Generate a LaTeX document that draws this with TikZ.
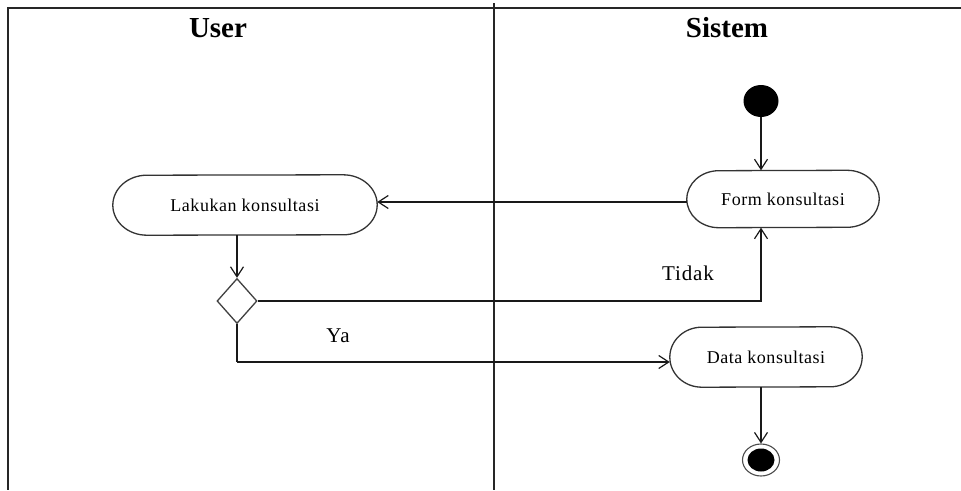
\documentclass[tikz,border=0pt]{standalone}
\usepackage{fontspec}
\setmainfont{Liberation Serif}
\usetikzlibrary{arrows.meta,shapes.geometric}
% outline of an action node with half-ellipse ends
\newcommand\pillshape[3]{%
  \draw[draw=black!80,line width=1.3pt]
    ([xshift=-#2]#1.north east) arc[start angle=90,end angle=-90,x radius=#2,y radius=#3]
    -- ([xshift=#2]#1.south west) arc[start angle=270,end angle=90,x radius=#2,y radius=#3]
    -- cycle;}
\begin{document}
\begin{tikzpicture}[x=1pt,y=-1pt,
  lane/.style={draw=black!85,line width=2pt},
  action/.style={rectangle,inner sep=0pt,
    font=\fontsize{18}{21}\selectfont\addfontfeatures{LetterSpace=3}},
  flow/.style={draw=black!90,line width=1.3pt,-{Straight Barb[length=10pt,width=13pt,line width=1.2pt]}},
  plain/.style={draw=black!90,line width=1.3pt},
  head/.style={font=\bfseries\fontsize{29}{32}\selectfont},
  guard/.style={font=\fontsize{21}{23}\selectfont\addfontfeatures{LetterSpace=4}},
  startnode/.style={ellipse,fill=black,minimum width=35pt,minimum height=32pt,inner sep=0pt},
  endnode/.style={ellipse,draw=black!70,line width=1.1pt,fill=white,minimum width=37pt,minimum height=32pt,inner sep=0pt},
  choice/.style={diamond,draw=black!75,line width=1.3pt,fill=white,minimum width=40pt,minimum height=45pt,inner sep=0pt}]
\useasboundingbox (0,0) rectangle (961,490);

% swimlane frame
\coordinate (tl) at (8,8);
\coordinate (tr) at (961,8);
\coordinate (bl) at (8,490);
\coordinate (mt) at (494,3);
\coordinate (mb) at (494,490);
\draw[lane] (tr) -- (tl) -- (bl);
\draw[lane] (mt) -- (mb);

\node[head] (huser) at (218,28) {User};
\node[head] (hsis) at (727,28) {Sistem};

% activities
\node[startnode] (start) at (761,101) {};
\node[action,minimum width=192pt,minimum height=57pt] (form) at (783,199) {Form konsultasi};
\pillshape{form}{32pt}{28.5pt}
\node[action,minimum width=264pt,minimum height=60pt] (lak) at (245,205) {Lakukan konsultasi};
\pillshape{lak}{34pt}{30pt}
\node[choice] (dec) at (237,301) {};
\node[action,minimum width=192pt,minimum height=60pt] (data) at (766,357) {Data konsultasi};
\pillshape{data}{32pt}{30pt}
\node[endnode] (end) at (761,460) {};
\node[ellipse,fill=black,minimum width=27pt,minimum height=23pt,inner sep=0pt] (endin) at (end) {};

% guards
\node[guard] (tidak) at (688,273) {Tidak};
\node[guard] (ya) at (338,336) {Ya};

% flows
\coordinate (fy) at (0,202);
\coordinate (yy) at (0,362);
\draw[flow] (start) -- (start |- form.north);
\draw[flow] (form.west |- fy) -- (lak.east |- fy);
\draw[flow] (dec.north |- lak.south) -- (dec.north);
\coordinate (ftarget) at (start |- form.south);
\draw[flow] (dec.east) -| (ftarget);
\coordinate (ycorner) at (dec.south |- yy);
\draw[plain] (dec.south) -- (ycorner);
\draw[flow] (ycorner) -- (data.west |- yy);
\draw[flow] (start |- data.south) -- (end.north);
\end{tikzpicture}
\end{document}
